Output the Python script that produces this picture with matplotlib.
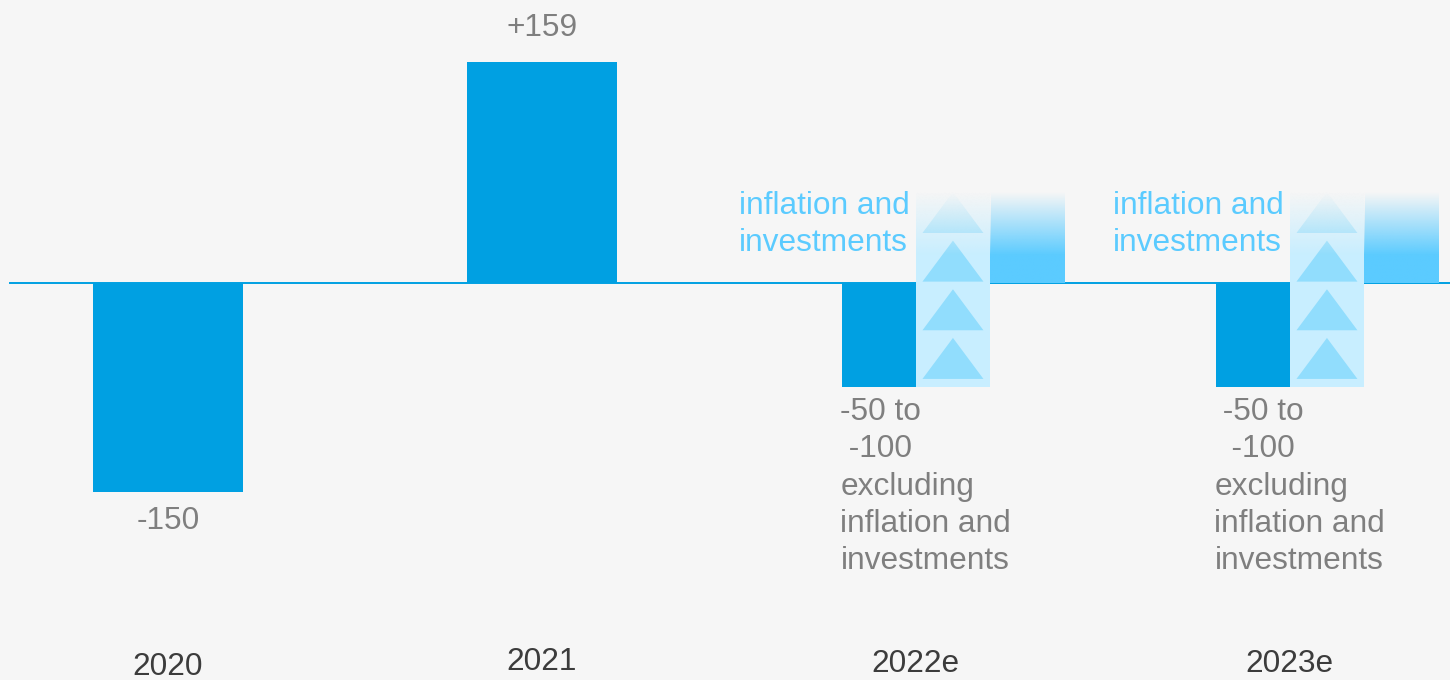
import numpy as np
import matplotlib
matplotlib.use("Agg")
import matplotlib.pyplot as plt
from matplotlib.patches import Rectangle, Polygon

plt.rcParams['font.family'] = ['Liberation Sans', 'DejaVu Sans']

# data
years = ["2020", "2021", "2022e", "2023e"]
values = [-150, 159, -75, -75]          # 2022e/2023e: midpoint of -50 to -100
value_labels = ["-150", "+159",
                "-50 to\n -100\nexcluding\ninflation and\ninvestments",
                " -50 to\n  -100\nexcluding\ninflation and\ninvestments"]
estimate = [False, False, True, True]
infl_low = -75      # inflation column spans from bar bottom...
infl_high = 65      # ...up to here (fades out)
infl_bar = 65       # gradient bar height
tri_bases = [-69, -34, 1, 36]
tri_height = 29.5

BG = "#F6F6F6"
BLUE = "#00A0E2"
LIGHT = "#5BCBFF"
COL = "#C8EEFF"
TRI = "#91DDFD"
GREY = "#7F7F7F"
DARK = "#3C3C3C"
FS = 22.8

fig = plt.figure(figsize=(14.5, 6.8), dpi=100, facecolor=BG)
ax = fig.add_axes([0, 0, 1, 1], facecolor=BG)
ax.set_xlim(-0.449, 3.428)
ax.set_ylim(-285.6, 203.6)
ax.axis("off")

x = np.arange(len(years))
wide = 0.401
narrow = 0.198

ax.axhline(0, xmin=0.007, xmax=1, color=BLUE, lw=1.4, zorder=1)

ramp_y = np.linspace(infl_high, 0, 200)
ramp = np.clip((infl_high - ramp_y) / 45.0, 0, 1)

for i in x:
    v = values[i]
    if not estimate[i]:
        ax.bar(i, v, width=wide, color=BLUE, zorder=2)
        if v > 0:
            ax.annotate(value_labels[i], (i, v), xytext=(0, 24.5), textcoords="offset points",
                        ha="center", va="center", fontsize=FS, color=GREY)
        else:
            ax.annotate(value_labels[i], (i, v), xytext=(0, -21), textcoords="offset points",
                        ha="center", va="center", fontsize=FS, color=GREY)
    else:
        ax.bar(i - narrow, v, width=narrow, align="edge", color=BLUE, zorder=2)
        # inflation column with arrows
        ax.add_patch(Rectangle((i, infl_low), narrow, infl_high - infl_low,
                               facecolor=COL, edgecolor="none", zorder=2))
        tw = 0.163
        for b in tri_bases:
            cx = i + narrow / 2
            ax.add_patch(Polygon([(cx - tw / 2, b), (cx + tw / 2, b), (cx, b + tri_height)],
                                 closed=True, facecolor=TRI, edgecolor="none", zorder=3))
        # fade top of column into background
        bg_rgb = np.array(matplotlib.colors.to_rgb(BG))
        fade = np.zeros((200, 1, 4))
        fade[:, 0, :3] = bg_rgb
        fade[:, 0, 3] = 1 - ramp
        ax.imshow(fade, extent=(i, i + narrow, 0, infl_high), aspect="auto",
                  interpolation="bilinear", zorder=4)
        # gradient bar
        lb = np.zeros((200, 1, 4))
        lb[:, 0, :3] = matplotlib.colors.to_rgb(LIGHT)
        lb[:, 0, 3] = ramp
        ax.imshow(lb, extent=(i + narrow, i + 2 * narrow, 0, infl_bar), aspect="auto",
                  interpolation="bilinear", zorder=2)
        ax.text(i - 0.016, 42.2, "inflation and\ninvestments", ha="right", va="center",
                multialignment="left", fontsize=FS, color=LIGHT, linespacing=1.32, zorder=5)
        ax.annotate(value_labels[i], (i - narrow, v), xytext=(-1, -7), textcoords="offset points",
                    ha="left", va="top", fontsize=FS, color=GREY, linespacing=1.32)

year_y = [-276.5, -272.5, -274, -274]
for i in x:
    ax.text(i, year_y[i], years[i], ha="center", va="center", fontsize=FS, color=DARK)

ax.set_xlim(-0.449, 3.428)
ax.set_ylim(-285.6, 203.6)
fig.savefig("out.png", dpi=100, facecolor=BG)
